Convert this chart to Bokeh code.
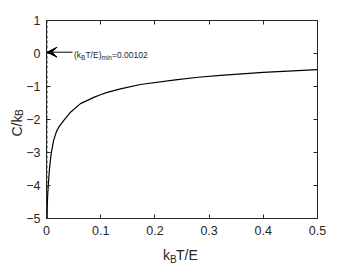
import math
from bokeh.plotting import figure
from bokeh.models import (Range1d, LinearAxis, FixedTicker, Label, Arrow, VeeHead)
from bokeh.embed import file_html
from bokeh.resources import INLINE

# ---- data ----
temperature = [0.0011, 0.0014, 0.0022, 0.0033, 0.0052, 0.0085, 0.013, 0.0185,
               0.023, 0.032, 0.0443, 0.0627, 0.0873, 0.0996, 0.112, 0.1365,
               0.173, 0.238, 0.28, 0.321, 0.4, 0.5]
heat_capacity = [-5.0, -4.6, -4.3, -4.0, -3.55, -3.04, -2.64, -2.36,
                 -2.22, -2.03, -1.78, -1.52, -1.33, -1.25, -1.18, -1.07,
                 -0.94, -0.80, -0.72, -0.66, -0.57, -0.49]
t_min = 0.00102
t_min_text = "0.00102"
x_ticks = [0, 0.1, 0.2, 0.3, 0.4, 0.5]
y_ticks = [-5, -4, -3, -2, -1, 0, 1]

FONT = "Liberation Sans"
AX = "#262626"

p = figure(width=350, height=263, output_backend="svg", toolbar_location=None,
           x_range=Range1d(0, 0.5), y_range=Range1d(-5, 1),
           min_border_left=46, min_border_right=33, min_border_top=20,
           min_border_bottom=45)
p.xgrid.visible = False
p.ygrid.visible = False
p.outline_line_color = AX
p.background_fill_color = "white"
p.border_fill_color = "white"

def style(ax, ticks, labels=True):
    ax.ticker = FixedTicker(ticks=ticks)
    ax.minor_tick_line_color = None
    ax.major_tick_in = 4
    ax.major_tick_out = 0
    ax.axis_line_color = AX
    ax.major_tick_line_color = AX
    if labels:
        ax.major_label_text_font = FONT
        ax.major_label_text_font_size = "12.5px"
        ax.major_label_text_color = AX
    else:
        ax.major_label_text_font_size = "1px"
        ax.major_label_text_color = None
        ax.major_label_standoff = 0

style(p.xaxis[0], x_ticks)
p.xaxis[0].major_label_standoff = 7
style(p.yaxis[0], y_ticks)
p.yaxis[0].major_label_standoff = 6
top = LinearAxis()
style(top, x_ticks, labels=False)
p.add_layout(top, "above")
right = LinearAxis()
style(right, y_ticks, labels=False)
p.add_layout(right, "right")

# dashed line at minimum temperature
p.line([t_min, t_min], [y_ticks[0], y_ticks[-1]], line_color="#444444",
       line_width=1, line_dash="3 2")
# curve
p.line(temperature, heat_capacity, line_color="black", line_width=1.2)

# pixel (reference) -> data mapping helpers for text placement
def dx(px):
    return (px - 46) / 542.0

def dy(py):
    return 1 - (py - 20) / 33.0

def lab(text, px, py, size, angle=0.0, side="center"):
    # labels outside the frame live in a side panel (not clipped); their
    # position is still given in data units, so the panel only holds them
    p.add_layout(Label(x=dx(px), y=dy(py), text=text, text_font=FONT,
                       text_font_size=f"{size}px", text_color=AX,
                       text_align="left", text_baseline="alphabetic",
                       angle=angle), side)

# x axis label k_B T/E
lab("k", 162.5, 254, 14, side="right")
lab("B", 169.5, 258.5, 10, side="above")
lab("T/E", 175.5, 254, 14, side="right")

# y axis label C/k_B (rotated)
lab("C/k", 16.7, 136, 14, angle=math.pi / 2, side="left")
lab("B", 19.0, 115.5, 10, angle=math.pi / 2, side="below")

# annotation arrow and text
p.add_layout(Arrow(end=VeeHead(size=10, fill_color="black", line_color="black"),
                   x_start=dx(72), y_start=dy(51.7), x_end=dx(46.5), y_end=dy(51.7),
                   line_color="black", line_width=1))
ax0 = 73.5
pieces = [("(k", 8.5, 0), ("B", 6.5, 2), ("T/E)", 8.5, 0), ("min", 6.5, 2), ("=" + t_min_text, 8.5, 0)]
widths = {"(": .333, "k": .5, "B": .667, "T": .611, "/": .278, "E": .667, ")": .333,
          "m": .833, "i": .222, "n": .556, "=": .584, "0": .556, ".": .278, "1": .556, "2": .556}
for txt, size, drop in pieces:
    lab(txt, ax0, 54.5 + drop, size)
    ax0 += sum(widths[c] for c in txt) * size

open("out.html", "w").write(file_html(p, INLINE))
